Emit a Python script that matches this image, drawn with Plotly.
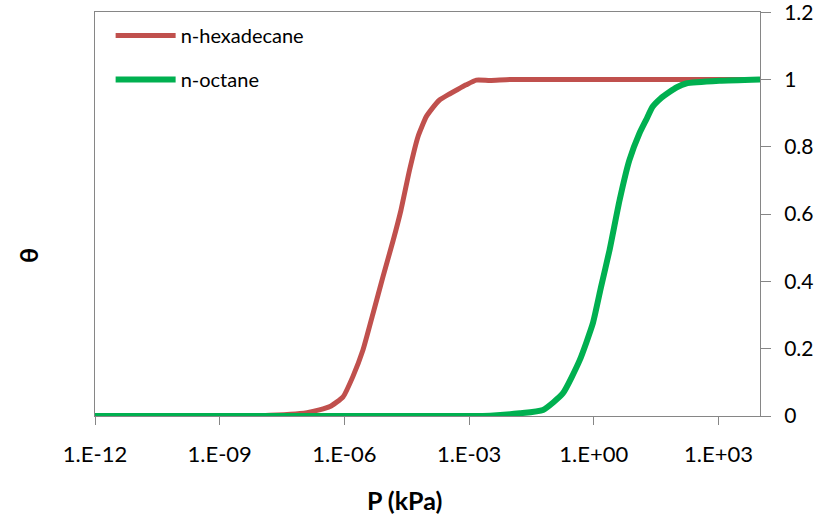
import plotly.graph_objects as go

# n-hexadecane: pressure (kPa) and coverage theta
hexadecane_p = [1e-12, 1e-9, 1e-8, 5.0e-8, 1.26e-7, 2.5e-7, 4.5e-7, 9.3e-7, 1.6e-6, 2.8e-6,
                4.9e-6, 8.5e-6, 1.5e-5, 2.3e-5, 3.7e-5, 5.9e-5, 9.3e-5, 1.26e-4, 1.95e-4,
                3.16e-4, 4.9e-4, 8.5e-4, 1.5e-3, 3.2e-3, 1e-2, 1.0, 1e4]
hexadecane_theta = [0, 0, 0.001, 0.005, 0.01, 0.018, 0.028, 0.057, 0.117, 0.196,
                    0.305, 0.414, 0.523, 0.612, 0.731, 0.83, 0.889, 0.912, 0.939,
                    0.955, 0.968, 0.984, 0.998, 0.997, 1.0, 1.0, 1.0]

# n-octane
octane_p = [1e-12, 1e-6, 1e-3, 3.2e-3, 1.66e-2, 6.0e-2, 0.18, 0.46, 0.95, 1.5, 2.4,
            4.2, 7.2, 12.6, 18.2, 26, 40, 66, 100, 166, 1050, 1e4]
octane_theta = [0, 0, 0, 0.001, 0.008, 0.018, 0.067, 0.166, 0.275, 0.384, 0.493,
                0.642, 0.76, 0.84, 0.88, 0.919, 0.943, 0.963, 0.977, 0.988, 0.996, 1.0]

x_tickvals = [1e-12, 1e-9, 1e-6, 1e-3, 1e0, 1e3]
x_ticktext = ["1.E-12", "1.E-09", "1.E-06", "1.E-03", "1.E+00", "1.E+03"]
y_tickvals = [0, 0.2, 0.4, 0.6, 0.8, 1.0, 1.2]
y_ticktext = ["0", "0.2", "0.4", "0.6", "0.8", "1", "1.2"]

FONT = "Lato"
AX = "#868686"

fig = go.Figure()
fig.add_trace(go.Scatter(x=hexadecane_p, y=hexadecane_theta, mode="lines", name="n-hexadecane",
                         line=dict(color="#C0504D", width=5, shape="spline", smoothing=0.5),
                         legendgroup="a"))
fig.add_trace(go.Scatter(x=octane_p, y=octane_theta, mode="lines", name="n-octane",
                         line=dict(color="#00B050", width=6, shape="spline", smoothing=0.5),
                         legendgroup="b"))

fig.update_layout(
    width=826, height=519,
    margin=dict(l=95, r=66, t=12, b=103, autoexpand=False),
    paper_bgcolor="white", plot_bgcolor="white",
    font=dict(family=FONT, size=22, color="black"),
    showlegend=True,
    legend=dict(x=0.0235, y=0.99, xanchor="left", yanchor="top", itemwidth=60,
                font=dict(family=FONT, size=20, color="black"),
                bgcolor="rgba(0,0,0,0)", tracegroupgap=15, traceorder="grouped"),
    xaxis=dict(type="log", range=[-12, 4], tickvals=x_tickvals, ticktext=x_ticktext,
               showgrid=False, zeroline=False, showline=True, linecolor=AX, linewidth=1,
               mirror=True, ticks="outside", ticklen=8, tickcolor=AX, ticklabelstandoff=11,
               automargin=False,
               tickfont=dict(family=FONT, size=22, color="black")),
    yaxis=dict(range=[0, 1.2005], tickvals=y_tickvals, ticktext=y_ticktext, side="right",
               showgrid=False, zeroline=False, showline=True, linecolor=AX, linewidth=1,
               mirror=True, ticks="outside", ticklen=10, tickcolor=AX, ticklabelstandoff=9,
               ticklabeloverflow="allow", automargin=False,
               tickfont=dict(family=FONT, size=21, color="black")),
    annotations=[
        dict(text="<b>P (kPa)</b>", xref="paper", yref="paper", x=0.4647, y=-0.208,
             showarrow=False, xanchor="center", yanchor="middle",
             font=dict(family=FONT, size=25, color="black")),
        dict(text="<b>θ</b>", xref="paper", yref="paper", x=-0.1008, y=0.3985,
             showarrow=False, xanchor="center", yanchor="middle", textangle=-90,
             font=dict(family=FONT, size=25, color="black")),
    ],
)

fig.write_html("out.html")
